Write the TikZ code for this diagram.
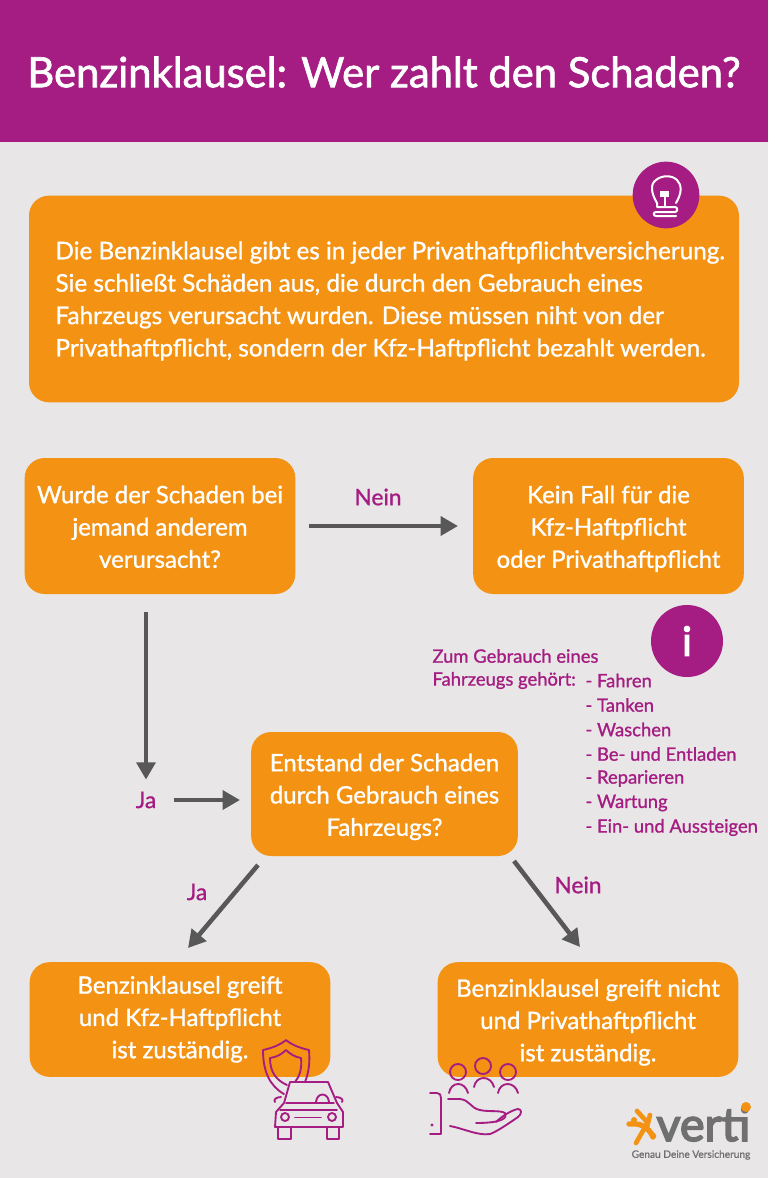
\documentclass[tikz,border=0pt]{standalone}
\usepackage{fontspec}
\setmainfont{Lato}[FakeBold=1.1]
\newfontfamily\titlefont{Lato}[FakeBold=1.6]
\newfontfamily\logofont{Lato}[FakeBold=3.5]
\usetikzlibrary{arrows.meta,positioning}
\definecolor{headpurple}{RGB}{165,29,131}
\definecolor{boxorange}{RGB}{243,146,19}
\definecolor{pagegrey}{RGB}{232,230,230}
\definecolor{arrowgrey}{RGB}{88,88,88}
\definecolor{logogrey}{RGB}{112,112,112}
\newcommand{\dropline}{\rule{0pt}{21.5pt}}
\tikzset{
	every picture/.style={line width=0.75pt},
	boxtext/.style={fill=boxorange,rounded corners=15pt,text=white,inner sep=0pt,align=center,font=\fontsize{18}{24.2}\selectfont},
	answer/.style={text=headpurple,inner sep=0.75pt,font=\fontsize{17}{20}\selectfont},
	listtext/.style={text=headpurple,inner sep=0pt,anchor=west,font=\fontsize{13.8}{18}\selectfont},
	flowarrow/.style={draw=arrowgrey,line width=3.4pt,-{Triangle[length=13pt,width=14pt]}},
	iconline/.style={draw=headpurple,line width=1.4pt,line cap=round,line join=round},
	bulbline/.style={draw=white,line width=1.5pt,line cap=round,line join=round}
}
\begin{document}
\begin{tikzpicture}[x=0.75pt,y=0.75pt,yscale=-1,xscale=1]
		\useasboundingbox (0,0) rectangle (768,1178);
		\fill [pagegrey] (0,0) rectangle (768,1178);
		\fill [headpurple] (0,0) rectangle (768,142);
		
		\node (title) at (384,72) [text=white,inner sep=0pt,font=\fontsize{31.3}{36}\titlefont] {Benzinklausel: Wer zahlt den Schaden?};
		
		%intro box and bulb
		\node (intro) at (384,299) [boxtext,minimum width=532.5pt,minimum height=155pt] {};
		\node (introtext) at (55,301) [anchor=west,inner sep=0pt,text=white,align=left,font=\fontsize{18.2}{24.3}\selectfont] {Die Benzinklausel gibt es in jeder Privathaftpflichtversicherung.\\Sie schließt Schäden aus, die durch den Gebrauch eines\\Fahrzeugs verursacht wurden. Diese müssen niht von der\\Privathaftpflicht, sondern der Kfz-Haftpflicht bezahlt werden.};
		\node (bulbdisc) at (666,195) [circle,fill=headpurple,minimum size=50pt,inner sep=0pt] {};
		\draw [bulbline] (657,203) .. controls (651,193) and (650,184) .. (656,180) .. controls (662,175) and (672,175) .. (677,180) .. controls (682,185) and (682,193) .. (676,203);
		\draw [bulbline] (657,203) -- (657,207) -- (675,207) .. controls (678,207) and (678,212) .. (675,212) -- (656,212) .. controls (653,212) and (653,216) .. (656,216) -- (676,216);
		\fill [white] (660,191) rectangle (669,197);
		\draw [bulbline,line width=1pt] (665,197) -- (665,207);
		
		%first question
		\node (schaden) at (160,526) [boxtext,minimum width=203pt,minimum height=102pt] {\dropline Wurde der Schaden bei\\jemand anderem\\verursacht?\strut};
		\node (keinfall) at (608.5,526) [boxtext,minimum width=203pt,minimum height=102pt] {\dropline Kein Fall für die\\Kfz-Haftpflicht\\oder Privathaftpflicht\strut};
		\node (neinone) at (378,497) [answer] {Nein};
		\draw [flowarrow,shorten <=9.5pt,shorten >=11pt] (schaden.east) -- (keinfall.west);
		
		%info list
		\node (infodisc) at (687,641) [circle,fill=headpurple,minimum size=54pt,inner sep=0pt,text=white,font=\fontsize{30}{30}\logofont] {i};
		\node (listhead) at (432,656) [listtext] {Zum Gebrauch eines};
		\node (listlead) at (432,680.5) [listtext] {Fahrzeugs gehört:};
		\node (fahren) at (585,680.5) [listtext] {- Fahren};
		\node (tanken) at (585,705) [listtext] {- Tanken};
		\node (waschen) at (585,729.5) [listtext] {- Waschen};
		\node (laden) at (585,754) [listtext] {- Be- und Entladen};
		\node (reparieren) at (585,778.5) [listtext] {- Reparieren};
		\node (wartung) at (585,803) [listtext] {- Wartung};
		\node (steigen) at (585,827.5) [listtext] {- Ein- und Aussteigen};
		
		%second question
		\node (gebrauch) at (384.5,794) [boxtext,minimum width=200pt,minimum height=93pt] {\dropline Entstand der Schaden\\durch Gebrauch eines\\Fahrzeugs?\strut};
		\node (jaone) at (146,800) [answer] {Ja};
		\node (jatwo) at (197,892) [answer] {Ja};
		\node (neintwo) at (578,885) [answer] {Nein};
		\coordinate (schadenfoot) at (146,612);
		\draw [flowarrow,shorten >=8pt] (schadenfoot) -- (jaone.north);
		\draw [flowarrow,shorten <=12pt,shorten >=8pt] (jaone.east) -- (jaone.east -| gebrauch.west);
		
		%results
		\node (greift) at (180,1019.5) [boxtext,minimum width=225.5pt,minimum height=86pt] {\strut Benzinklausel greift\\und Kfz-Haftpflicht\\ist zuständig.\strut};
		\node (greiftnicht) at (588,1019.5) [boxtext,minimum width=225.5pt,minimum height=86pt] {\dropline Benzinklausel greift nicht\\und Privathaftpflicht\\ist zuständig.\strut};
		\coordinate (gebrauchleft) at (258,865);
		\coordinate (greifttop) at (188,948);
		\coordinate (gebrauchright) at (514,861);
		\coordinate (nichttop) at (580,947);
		\draw [flowarrow] (gebrauchleft) -- (greifttop);
		\draw [flowarrow] (gebrauchright) -- (nichttop);
		
		%car and shield
		\draw [iconline] (284,1094) .. controls (270,1086) and (263,1072) .. (263,1050) .. controls (272,1048) and (280,1045) .. (286,1040) .. controls (292,1045) and (300,1048) .. (309,1050) .. controls (310,1062) and (309,1072) .. (305,1082);
		\draw [iconline] (287,1085) .. controls (276,1080) and (270,1072) .. (270,1058) .. controls (277,1057) and (282,1054) .. (286,1050) .. controls (290,1054) and (295,1057) .. (301,1058) .. controls (302,1068) and (300,1076) .. (295,1082);
		\draw [iconline] (284,1103) -- (290,1082) -- (328,1082) -- (337,1103);
		\draw [iconline] (286,1103) -- (334,1103);
		\draw [iconline] (284,1103) -- (276,1112) -- (275,1127) -- (343,1127) -- (343,1112) -- (337,1103);
		\draw [iconline] (280,1110) -- (337,1110);
		\draw [iconline] (285,1117) circle (4);
		\draw [iconline] (332,1117) circle (4);
		\draw [iconline] (295,1117.5) -- (321,1117.5);
		\draw [iconline] (278,1127) -- (278,1139) -- (291,1139) -- (291,1127);
		\draw [iconline] (327,1127) -- (327,1139) -- (339,1139) -- (339,1127);
		\draw [iconline] (316,1102) .. controls (317,1092) and (328,1092) .. (329,1102);
		\draw [iconline] (281,1097) .. controls (276,1097) and (273,1100) .. (275,1102);
		\draw [iconline] (336,1097) .. controls (341,1097) and (344,1100) .. (342,1102);
		
		%people and hand
		\draw [iconline] (458,1072) circle (8);
		\draw [iconline] (483,1066) circle (8);
		\draw [iconline] (508,1072) circle (8);
		\draw [iconline] (449,1093) .. controls (451,1081) and (465,1081) .. (468,1093);
		\draw [iconline] (474,1087) .. controls (476,1075) and (491,1075) .. (494,1087);
		\draw [iconline] (498,1093) .. controls (500,1081) and (515,1081) .. (518,1093);
		\draw [iconline] (448,1099) -- (460,1099) .. controls (470,1100) and (470,1108) .. (480,1110) .. controls (488,1112) and (500,1110) .. (505,1113) .. controls (508,1118) and (502,1123) .. (476,1123);
		\draw [iconline] (496,1122) .. controls (502,1116) and (512,1110) .. (518,1109) .. controls (522,1109) and (522,1114) .. (518,1117) .. controls (508,1124) and (496,1132) .. (490,1134) .. controls (478,1136) and (462,1128) .. (450,1126);
		\draw [iconline] (430,1093) -- (437,1093) .. controls (440,1093) and (441,1095) .. (441,1098) -- (441,1134) -- (430,1134);
		\fill [headpurple] (432,1125) circle (1.7);
		
		%logo
		\draw [boxorange,line width=4pt,line cap=round] (629,1124) .. controls (640,1123) and (648,1126) .. (653,1137);
		\draw [boxorange,line width=3.5pt,line cap=round] (637,1111) -- (648,1123) -- (650,1115);
		\draw [boxorange,line width=3.5pt,line cap=round] (648,1122) -- (636,1143);
		\draw [boxorange,line width=3.5pt,line cap=round] (645,1127) -- (654,1136);
		\fill [boxorange] (634,1120) circle (3);
		\node (verti) at (656,1141) [anchor=base west,inner sep=0pt,text=logogrey,font=\fontsize{35}{36}\logofont] {verti};
		\fill [boxorange] (746,1107) circle (5);
		\node (slogan) at (691,1155) [inner sep=0pt,text=logogrey,font=\fontsize{7.6}{10}\selectfont] {Genau Deine Versicherung};
		
	\end{tikzpicture}
\end{document}
